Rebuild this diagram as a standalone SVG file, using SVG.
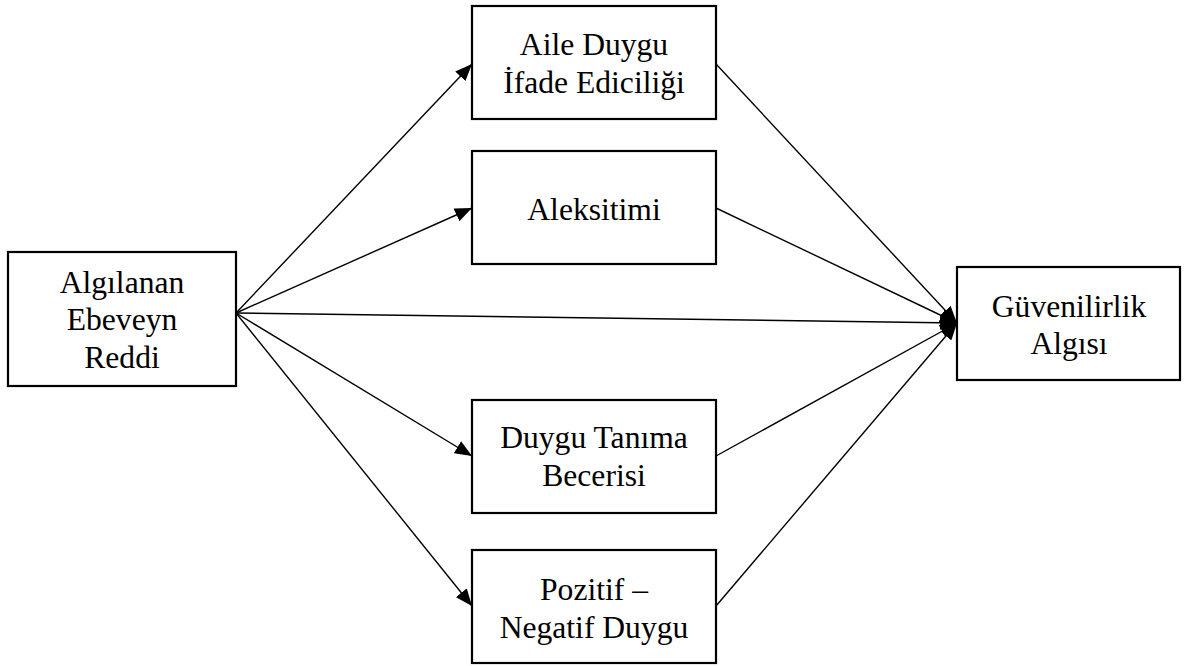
<svg xmlns="http://www.w3.org/2000/svg" width="1184" height="666" viewBox="0 0 1184 666">
<style>
.box{fill:#fff;stroke:#000;stroke-width:2.2}
.lbl{font-family:"Liberation Serif","Times New Roman",serif;font-size:31.6px;fill:#000;text-anchor:middle}
.edge{stroke:#000;stroke-width:1.4;fill:none;marker-end:url(#ah)}
</style>
<defs>
<marker id="ah" markerUnits="userSpaceOnUse" markerWidth="18" markerHeight="14" refX="17" refY="7" orient="auto" viewBox="0 0 18 14">
<path d="M0,0 L17,7 L0,14 Z" fill="#000"/>
</marker>
</defs>
<rect width="1184" height="666" fill="#fff"/>
<g id="connectors">
<line class="edge" x1="236" y1="313" x2="472" y2="64"/>
<line class="edge" x1="236" y1="313" x2="472" y2="208"/>
<line class="edge" x1="236" y1="313" x2="957" y2="323"/>
<line class="edge" x1="236" y1="313" x2="472" y2="456"/>
<line class="edge" x1="236" y1="313" x2="472" y2="606"/>
<line class="edge" x1="716" y1="64" x2="957" y2="323"/>
<line class="edge" x1="716" y1="208" x2="957" y2="323"/>
<line class="edge" x1="716" y1="456" x2="957" y2="323"/>
<line class="edge" x1="716" y1="606" x2="957" y2="323"/>
</g>
<g id="node-ebeveyn">
<rect class="box" x="8" y="252" width="228" height="134"/>
<text class="lbl" x="122" y="293">Algılanan</text>
<text class="lbl" x="122" y="330">Ebeveyn</text>
<text class="lbl" x="122" y="368">Reddi</text>
</g>
<g id="node-aile">
<rect class="box" x="472" y="6" width="244" height="113"/>
<text class="lbl" x="594" y="55">Aile Duygu</text>
<text class="lbl" x="594" y="93">İfade Ediciliği</text>
</g>
<g id="node-aleksitimi">
<rect class="box" x="472" y="151" width="244" height="113"/>
<text class="lbl" x="594" y="220">Aleksitimi</text>
</g>
<g id="node-tanima">
<rect class="box" x="472" y="400" width="244" height="113"/>
<text class="lbl" x="594" y="448">Duygu Tanıma</text>
<text class="lbl" x="594" y="486">Becerisi</text>
</g>
<g id="node-pozitif">
<rect class="box" x="472" y="550" width="244" height="113"/>
<text class="lbl" x="594" y="600">Pozitif –</text>
<text class="lbl" x="594" y="638">Negatif Duygu</text>
</g>
<g id="node-guven">
<rect class="box" x="957" y="267" width="223" height="113"/>
<text class="lbl" x="1069" y="317">Güvenilirlik</text>
<text class="lbl" x="1069" y="354">Algısı</text>
</g>
</svg>
